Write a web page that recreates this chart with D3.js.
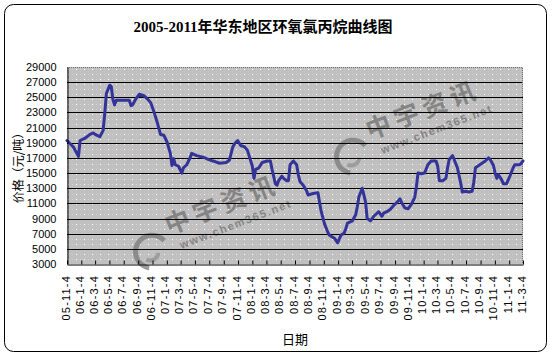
<!DOCTYPE html>
<html><head><meta charset="utf-8">
<script src="https://cdn.jsdelivr.net/npm/d3@7/dist/d3.min.js"></script>
<style>
html,body{margin:0;padding:0;background:#fff;}
svg{display:block;}
</style></head>
<body>
<svg id="chart" width="554" height="357"></svg>
<script>
// ---- data ----
const titleText = "2005-2011年华东地区环氧氯丙烷曲线图";
const yTitle = "价格（元/吨）";
const xTitle = "日期";
const startDate = "2005-11-04";   // first weekly observation (Friday)
const endDate = "2011-03-04";
const xTickLabels = ["05-11-4","06-1-4","06-3-4","06-5-4","06-7-4","06-9-4","06-11-4",
  "07-1-4","07-3-4","07-5-4","07-7-4","07-9-4","07-11-4","08-1-4","08-3-4","08-5-4",
  "08-7-4","08-9-4","08-11-4","09-1-4","09-3-4","09-5-4","09-7-4","09-9-4","09-11-4",
  "10-1-4","10-3-4","10-5-4","10-7-4","10-9-4","10-11-4","11-1-4","11-3-4"];
const yTicks = [3000,5000,7000,9000,11000,13000,15000,17000,19000,21000,23000,25000,27000,29000];
// week number since startDate
const weeks = [0,4,7,8,11,14,16,18,20,22,23,24,26,27,28,29,30,34,38,39,40,42,44,47,49,51,53,55,57,59,
  61,63,64,65,66,68,70,71,73,75,76,79,83,86,89,93,97,99,101,102,104,106,108,110,111,113,114,115,117,119,
  122,124,125,127,128,129,131,132,134,135,136,138,140,141,142,144,146,147,150,153,154,155,157,159,160,
  163,165,167,169,170,171,174,176,177,178,180,181,182,183,185,187,189,190,192,193,195,197,199,201,203,
  204,206,208,210,212,213,214,216,218,220,222,225,226,227,229,231,232,233,235,236,238,240,241,243,245,
  247,248,249,251,253,255,257,258,260,261,262,263,265,266,268,270,272,273,276,277,278];
const prices = [19300,18400,17200,19300,19600,20100,20300,20000,19800,20600,22800,25500,26600,26400,24700,24000,24600,24600,24600,23900,
  24000,24800,25400,25200,24800,24300,23100,21700,20100,20000,
  19100,17600,16000,16900,16100,15900,15000,15700,16100,17000,17600,17300,17100,16800,16600,16300,16400,16700,18400,18800,
  19300,18600,18500,18000,17300,15900,14300,15500,15700,16400,
  16600,16600,15500,13600,13400,14000,14600,14300,14000,14000,16100,16600,16100,14800,13900,13400,12700,12100,12300,12400,
  11100,9900,8300,7200,6800,6400,5800,6800,7100,7700,8400,8700,9500,10600,11900,13000,12100,11200,9000,8700,
  9300,9700,9900,9300,9700,9900,10200,10700,11100,11600,
  11100,10400,10300,10900,11800,13200,15000,14900,15000,16100,16600,16600,15900,14000,14000,14300,15700,16800,17300,16800,
  15700,13700,12500,12600,12500,12600,13800,15700,16000,16300,16600,17000,16800,16000,15000,14300,14800,14100,13600,13600,
  14600,15700,16100,16100,16300,16600];

// ---- layout ----
const svg = d3.select("#chart");
const L = 67, R = 523, T = 67, B = 264;
const parseISO = d3.timeParse("%Y-%m-%d");
const parseTick = d3.timeParse("%y-%m-%d");
const d0 = parseISO(startDate), d1 = parseISO(endDate);
const data = weeks.map((w,i)=>({date: d3.timeDay.offset(d0, 7*w), v: prices[i]}));
const tickDates = xTickLabels.map(s=>parseTick(s));

const x = d3.scaleTime().domain([d0,d1]).range([L,R]);
const y = d3.scaleLinear().domain([3000,29000]).range([B,T]);

// outer border
svg.append("rect").attr("x",4.5).attr("y",4.5).attr("width",542).attr("height",347)
  .attr("rx",9).attr("ry",9).attr("fill","#fff").attr("stroke","#000").attr("stroke-width",1);

// pattern
const defs = svg.append("defs");
const pat = defs.append("pattern").attr("id","dots").attr("patternUnits","userSpaceOnUse")
  .attr("width",8).attr("height",5).attr("x",L).attr("y",T);
pat.append("rect").attr("width",8).attr("height",5).attr("fill","#c0c0c0");
pat.append("rect").attr("x",1).attr("y",2).attr("width",1).attr("height",1).attr("fill","#ffffff");
pat.append("rect").attr("x",5).attr("y",2).attr("width",1).attr("height",1).attr("fill","#e8c8d8");

svg.append("rect").attr("x",L).attr("y",T).attr("width",R-L).attr("height",B-T).attr("fill","url(#dots)");

// watermarks
function watermark(cx, cy){
  const g = svg.append("g").attr("transform",`translate(${cx},${cy}) rotate(-21)`).attr("opacity",0.75);
  g.append("path").attr("d", d3.arc()({innerRadius:14, outerRadius:19, startAngle:-2.6, endAngle:1.2}))
    .attr("transform","translate(-82,10)").attr("fill","#7a7a7a");
  g.append("path").attr("d", d3.arc()({innerRadius:6, outerRadius:10, startAngle:2.0, endAngle:4.0}))
    .attr("transform","translate(-84,10)").attr("fill","#909090");
  g.append("text").attr("x",0).attr("y",0).attr("text-anchor","middle")
    .attr("font-family","'Noto Sans CJK SC'").attr("font-weight","bold").attr("font-size",25)
    .attr("letter-spacing",5).attr("fill","#707070").text("中宇资讯");
  g.append("text").attr("x",6).attr("y",18).attr("text-anchor","middle")
    .attr("font-family","'Liberation Sans',Arial").attr("font-weight","bold").attr("font-size",11)
    .attr("letter-spacing",1.6).attr("fill","#707070").text("www.chem365.net");
}
watermark(225, 213);
watermark(426, 118);

// gridlines
svg.append("g").selectAll("line").data(yTicks.filter(v=>v>3000 && v<29000)).join("line")
  .attr("x1",L).attr("x2",R).attr("y1",d=>Math.round(y(d))+0.5).attr("y2",d=>Math.round(y(d))+0.5)
  .attr("stroke","#000").attr("stroke-width",1);

// plot border top/right
svg.append("path").attr("d",`M${L},${T+0.5}H${R-0.5}V${B}`).attr("fill","none")
  .attr("stroke","#707070").attr("stroke-dasharray","1,1");

// line
const line = d3.line().x(d=>x(d.date)).y(d=>y(d.v));
svg.append("path").datum(data).attr("d",line).attr("fill","none")
  .attr("stroke","#333399").attr("stroke-width",3).attr("stroke-linejoin","round").attr("stroke-linecap","round");

// x axis
const xAxis = svg.append("g").attr("transform",`translate(0,${B+0.5})`)
  .call(d3.axisBottom(x).tickValues(tickDates).tickSizeInner(-4).tickSizeOuter(0).tickFormat(""));
xAxis.select(".domain").attr("stroke","#000");
xAxis.selectAll(".tick line").attr("stroke","#000");
svg.append("g").selectAll("text").data(tickDates).join("text")
  .attr("transform",(d)=>`translate(${x(d)+2.5},275) rotate(-90)`)
  .attr("text-anchor","end").attr("font-family","'Liberation Sans',Arial").attr("font-size",11)
  .attr("letter-spacing",1.2).attr("fill","#000")
  .text((d,i)=>xTickLabels[i]);

// y axis
const yAxis = svg.append("g").attr("transform",`translate(${L+0.5},0)`)
  .call(d3.axisLeft(y).tickValues(yTicks).tickSize(0).tickPadding(11).tickFormat(d3.format("d")));
yAxis.select(".domain").attr("stroke","#000");
yAxis.selectAll("text").attr("font-family","'Liberation Sans',Arial").attr("font-size",11).attr("fill","#000");

// titles
svg.append("text").attr("x",263).attr("y",32).attr("text-anchor","middle")
  .attr("font-family","'Liberation Serif','Noto Sans CJK SC'").attr("font-weight","bold").attr("font-size",15)
  .attr("fill","#000").text(titleText);
svg.append("text").attr("transform","translate(17,165) rotate(-90)").attr("text-anchor","middle")
  .attr("dominant-baseline","central").attr("font-family","'Noto Sans CJK SC'").attr("font-size",12)
  .attr("fill","#000").text(yTitle);
svg.append("text").attr("x",295).attr("y",338).attr("text-anchor","middle").attr("dominant-baseline","central")
  .attr("font-family","'Noto Sans CJK SC'").attr("font-size",13).attr("fill","#000").text(xTitle);
</script>
</body></html>
